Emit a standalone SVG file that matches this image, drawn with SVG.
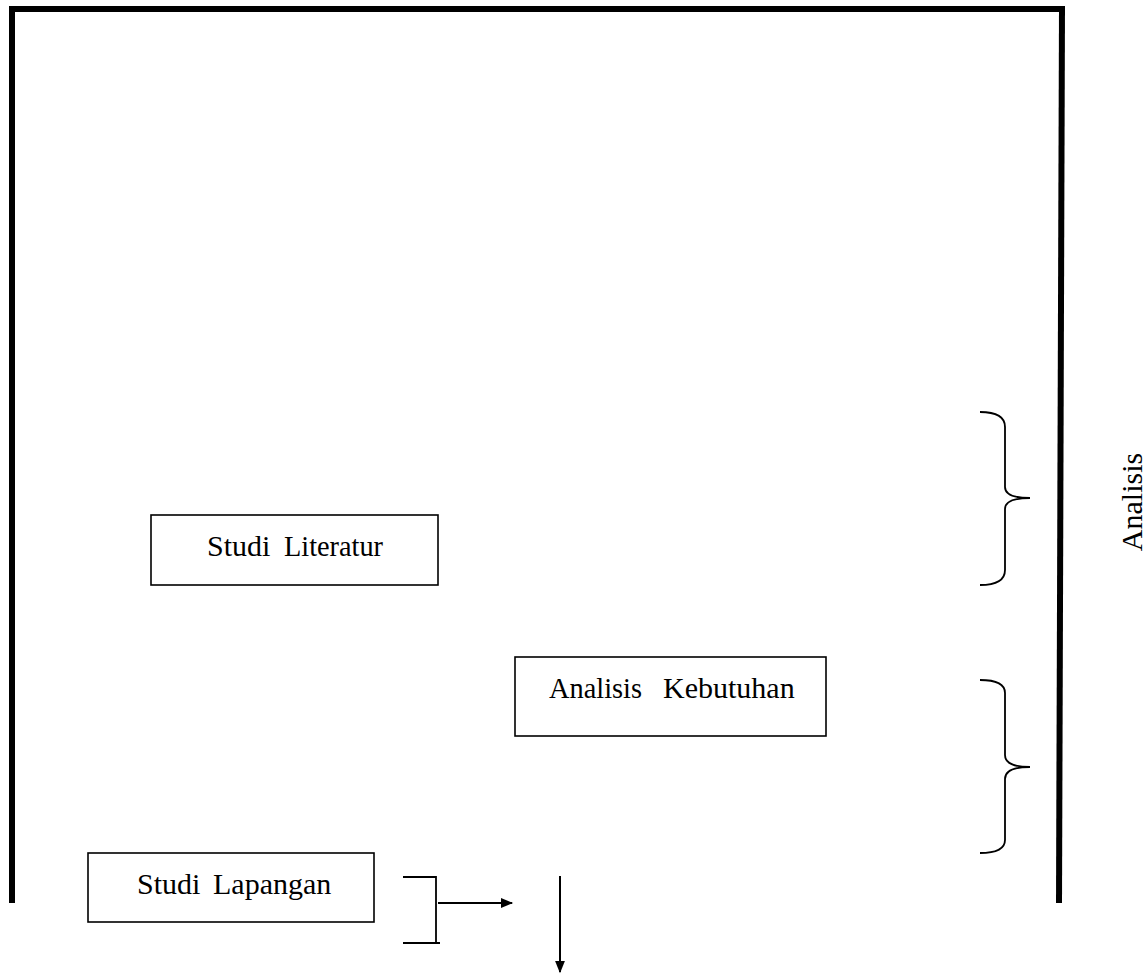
<svg xmlns="http://www.w3.org/2000/svg" width="1147" height="977" viewBox="0 0 1147 977">
<style>
.box{fill:#fff;stroke:#000;stroke-width:1.6}
.lbl{font-family:'Liberation Serif','Times New Roman',serif;font-size:30px;fill:#000}
.frame{stroke:#000;stroke-width:6;fill:none}
.brace{fill:none;stroke:#000;stroke-width:1.8}
.ln{stroke:#000;stroke-width:1.8;fill:none}
.arr{stroke:#000;stroke-width:2;fill:none}
</style>
<defs>
<marker id="ah" viewBox="0 0 10 8" refX="9" refY="4" markerWidth="13" markerHeight="10" orient="auto" markerUnits="userSpaceOnUse">
<path d="M0,0 L10,4 L0,8 z" fill="#000"/>
</marker>
</defs>
<rect width="1147" height="977" fill="#fff"/>
<g id="frame">
<line class="frame" x1="9" y1="9" x2="1065" y2="9"/>
<line class="frame" x1="12" y1="6" x2="12" y2="903"/>
<line class="frame" x1="1062" y1="6" x2="1059" y2="903"/>
</g>
<g id="node-studi-literatur">
<rect class="box" x="151" y="515" width="287" height="70"/>
<text class="lbl" y="556"><tspan x="207">Studi</tspan><tspan x="284" textLength="99" lengthAdjust="spacingAndGlyphs">Literatur</tspan></text>
</g>
<g id="node-analisis-kebutuhan">
<rect class="box" x="515" y="657" width="311" height="79"/>
<text class="lbl" y="698"><tspan x="549" textLength="93" lengthAdjust="spacingAndGlyphs">Analisis</tspan><tspan x="663">Kebutuhan</tspan></text>
</g>
<g id="node-studi-lapangan">
<rect class="box" x="88" y="853" width="286" height="69"/>
<text class="lbl" y="894"><tspan x="137">Studi</tspan><tspan x="213">Lapangan</tspan></text>
</g>
<g id="label-analisis">
<text class="lbl" text-anchor="middle" transform="translate(1142,502) rotate(-90)">Analisis</text>
</g>
<g id="connectors">
<path class="brace" d="M980,412 Q1005,412 1005,427 L1005,487 Q1005,498 1030,498 Q1005,498 1005,509 L1005,570 Q1005,585 980,585"/>
<path class="brace" d="M980,680 Q1005,680 1005,693 L1005,755 Q1005,767 1030,767 Q1005,767 1005,779 L1005,840 Q1005,853 980,853"/>
<path class="ln" d="M403,877 L436,877 L436,943 L403,943 M436,943 L440,943"/>
<line class="arr" x1="438" y1="903" x2="512" y2="903" marker-end="url(#ah)"/>
<line class="arr" x1="560" y1="876" x2="560" y2="972" marker-end="url(#ah)"/>
</g>
</svg>
